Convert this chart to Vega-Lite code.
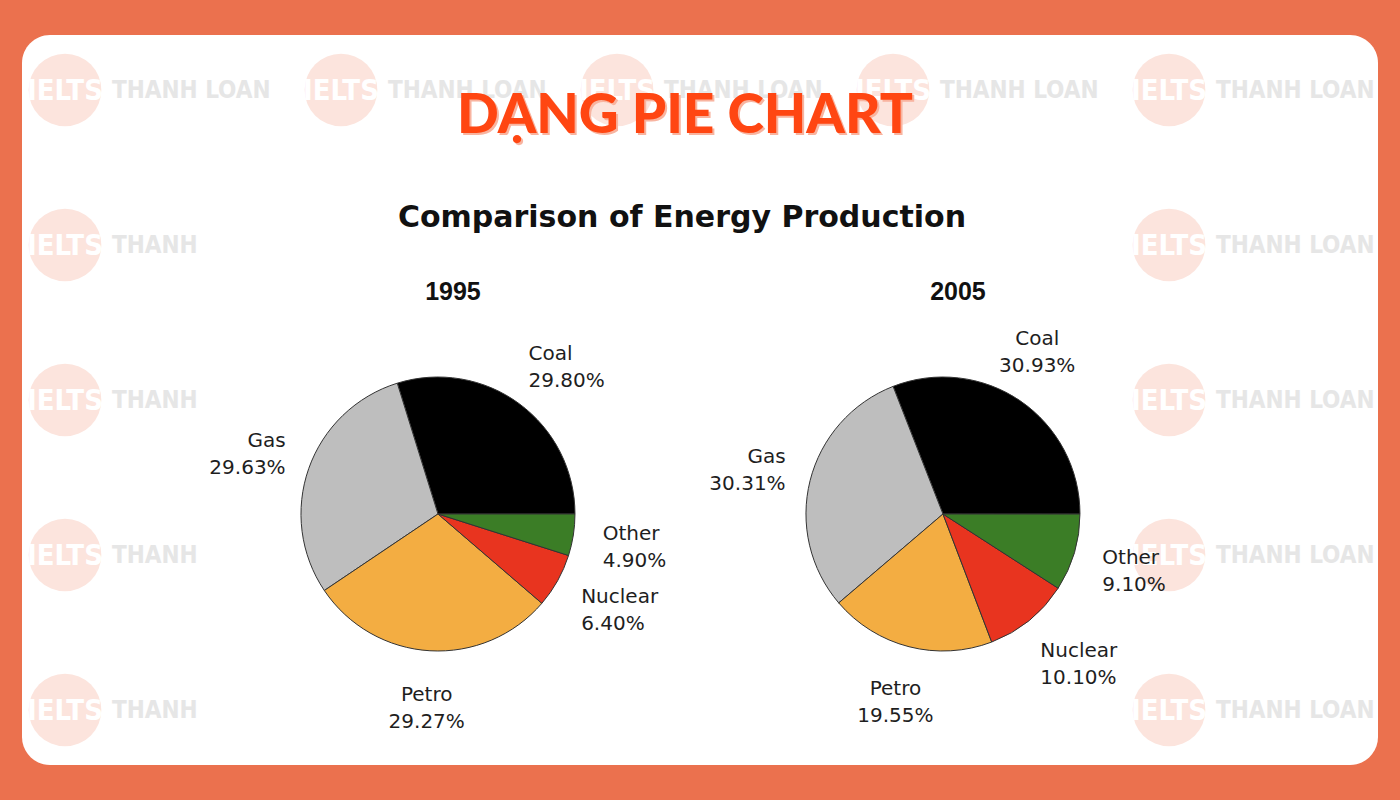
{
  "$schema": "https://vega.github.io/schema/vega-lite/v6.json",
  "width": 1356,
  "height": 730,
  "autosize": "none",
  "padding": {"left": 22, "top": 35, "right": 22, "bottom": 35},
  "background": "#EB714E",
  "config": {"view": {"fill": "#FFFFFF", "stroke": null, "cornerRadius": 28}},
  "datasets": {
    "energy": [
      {"year": "1995", "source": "Coal", "pct": 29.80},
      {"year": "1995", "source": "Gas", "pct": 29.63},
      {"year": "1995", "source": "Petro", "pct": 29.27},
      {"year": "1995", "source": "Nuclear", "pct": 6.40},
      {"year": "1995", "source": "Other", "pct": 4.90},
      {"year": "2005", "source": "Coal", "pct": 30.93},
      {"year": "2005", "source": "Gas", "pct": 30.31},
      {"year": "2005", "source": "Petro", "pct": 19.55},
      {"year": "2005", "source": "Nuclear", "pct": 10.10},
      {"year": "2005", "source": "Other", "pct": 9.10}
    ],
    "watermarks": [
      {"col": "c1", "row": "r1", "name": "THANH LOAN"},
      {"col": "c2", "row": "r1", "name": "THANH LOAN"},
      {"col": "c3", "row": "r1", "name": "THANH LOAN"},
      {"col": "c4", "row": "r1", "name": "THANH LOAN"},
      {"col": "c5", "row": "r1", "name": "THANH LOAN"},
      {"col": "c1", "row": "r2", "name": "THANH"},
      {"col": "c1", "row": "r3", "name": "THANH"},
      {"col": "c1", "row": "r4", "name": "THANH"},
      {"col": "c1", "row": "r5", "name": "THANH"},
      {"col": "c5", "row": "r2", "name": "THANH LOAN"},
      {"col": "c5", "row": "r3", "name": "THANH LOAN"},
      {"col": "c5", "row": "r4", "name": "THANH LOAN"},
      {"col": "c5", "row": "r5", "name": "THANH LOAN"}
    ],
    "years": [{"year": "1995"}, {"year": "2005"}],
    "titles": [{"main": "DẠNG PIE CHART", "sub": "Comparison of Energy Production"}]
  },
  "resolve": {"scale": {"x": "independent", "y": "independent"}},
  "layer": [
    {
      "data": {"name": "watermarks"},
      "encoding": {
        "x": {"field": "col", "type": "nominal", "axis": null,
              "scale": {"type": "point", "domain": ["c1", "c2", "c3", "c4", "c5"], "padding": 0.4565, "align": 0.1706}},
        "y": {"field": "row", "type": "nominal", "axis": null,
              "scale": {"type": "point", "domain": ["r1", "r2", "r3", "r4", "r5"], "padding": 0.3548, "align": 0.5}}
      },
      "layer": [
        {"mark": {"type": "point", "shape": "circle", "filled": true, "size": 5281, "color": "#FCE4DD", "opacity": 1, "strokeWidth": 0}},
        {"mark": {"type": "text", "text": "IELTS", "font": "DejaVu Sans Condensed, Liberation Sans, sans-serif", "fontWeight": "bold", "fontSize": 29, "color": "#FFFFFF", "align": "center", "baseline": "middle", "dy": 1}},
        {"mark": {"type": "text", "font": "DejaVu Sans Condensed, Liberation Sans, sans-serif", "fontWeight": "bold", "fontSize": 24, "color": "#E6E6E6", "align": "left", "baseline": "middle", "dx": 47, "dy": 1},
         "encoding": {"text": {"field": "name"}}}
      ]
    },
    {
      "data": {"name": "titles"},
      "layer": [
        {"mark": {"type": "text", "font": "Lato", "fontWeight": 900, "fontSize": 55, "color": "#F8B4A0", "align": "center", "baseline": "alphabetic"},
         "encoding": {"text": {"field": "main"}, "x": {"value": 665}, "y": {"value": 100}}},
        {"mark": {"type": "text", "font": "Lato", "fontWeight": 900, "fontSize": 55, "color": "#FF4612", "align": "center", "baseline": "alphabetic"},
         "encoding": {"text": {"field": "main"}, "x": {"value": 663}, "y": {"value": 98}}},
        {"mark": {"type": "text", "font": "DejaVu Sans", "fontWeight": "bold", "fontSize": 30, "color": "#111111", "align": "center", "baseline": "alphabetic"},
         "encoding": {"text": {"field": "sub"}, "x": {"value": 660}, "y": {"value": 192}}}
      ]
    },
    {
      "data": {"name": "years"},
      "mark": {"type": "text", "font": "Liberation Sans", "fontWeight": "bold", "fontSize": 25, "color": "#111111", "align": "center", "baseline": "alphabetic", "dx": 15},
      "encoding": {
        "x": {"field": "year", "type": "nominal", "axis": null,
              "scale": {"type": "point", "domain": ["1995", "2005"], "padding": 0.8426, "align": 0.4888}},
        "y": {"value": 265},
        "text": {"field": "year"}
      }
    },
    {
      "data": {"name": "energy"},
      "transform": [
        {"window": [{"op": "row_number", "as": "idx"}]},
        {"stack": "pct", "groupby": ["year"], "sort": [{"field": "idx", "order": "ascending"}], "as": ["start", "end"]},
        {"calculate": "(datum.start + datum.end) / 2", "as": "mid"},
        {"calculate": "[datum.source, format(datum.pct, '.2f') + '%']", "as": "label"}
      ],
      "encoding": {
        "x": {"field": "year", "type": "nominal", "axis": null,
              "scale": {"type": "point", "domain": ["1995", "2005"], "padding": 0.8426, "align": 0.4888}},
        "y": {"value": 479}
      },
      "layer": [
        {
          "mark": {"type": "arc", "radius": 137, "stroke": "#333333", "strokeWidth": 1},
          "encoding": {
            "theta": {"field": "start", "type": "quantitative", "stack": null,
                      "scale": {"domain": [0, 100], "range": [1.5708, -4.7124]}},
            "theta2": {"field": "end"},
            "color": {"field": "source", "type": "nominal", "legend": null,
                      "scale": {"domain": ["Coal", "Gas", "Petro", "Nuclear", "Other"],
                                "range": ["#000000", "#BEBEBE", "#F3AD42", "#E8341F", "#3B7D26"]}}
          }
        },
        {
          "transform": [{"filter": "datum.source == 'Other' || datum.source == 'Nuclear' || (datum.source == 'Coal' && datum.year == '1995')"}],
          "mark": {"type": "text", "radius": 188, "align": "left", "baseline": "middle", "dx": -21, "dy": -9,
                   "font": "DejaVu Sans", "fontSize": 20, "lineHeight": 27, "color": "#1E1E1E"},
          "encoding": {
            "theta": {"field": "mid", "type": "quantitative", "stack": null,
                      "scale": {"domain": [0, 100], "range": [1.5708, -4.7124]}},
            "text": {"field": "label"}
          }
        },
        {
          "transform": [{"filter": "datum.source == 'Gas'"}],
          "mark": {"type": "text", "radius": 188, "align": "right", "baseline": "middle", "dx": 25, "dy": -11,
                   "font": "DejaVu Sans", "fontSize": 20, "lineHeight": 27, "color": "#1E1E1E"},
          "encoding": {
            "theta": {"field": "mid", "type": "quantitative", "stack": null,
                      "scale": {"domain": [0, 100], "range": [1.5708, -4.7124]}},
            "text": {"field": "label"}
          }
        },
        {
          "transform": [{"filter": "datum.source == 'Petro'"}],
          "mark": {"type": "text", "radius": 192, "align": "center", "baseline": "middle", "dy": -11,
                   "font": "DejaVu Sans", "fontSize": 20, "lineHeight": 27, "color": "#1E1E1E"},
          "encoding": {
            "theta": {"field": "mid", "type": "quantitative", "stack": null,
                      "scale": {"domain": [0, 100], "range": [1.5708, -4.7124]}},
            "text": {"field": "label"}
          }
        },
        {
          "transform": [{"filter": "datum.source == 'Coal' && datum.year == '2005'"}],
          "mark": {"type": "text", "radius": 192, "align": "center", "baseline": "middle", "dx": -14, "dy": -16,
                   "font": "DejaVu Sans", "fontSize": 20, "lineHeight": 27, "color": "#1E1E1E"},
          "encoding": {
            "theta": {"field": "mid", "type": "quantitative", "stack": null,
                      "scale": {"domain": [0, 100], "range": [1.5708, -4.7124]}},
            "text": {"field": "label"}
          }
        }
      ]
    }
  ]
}
